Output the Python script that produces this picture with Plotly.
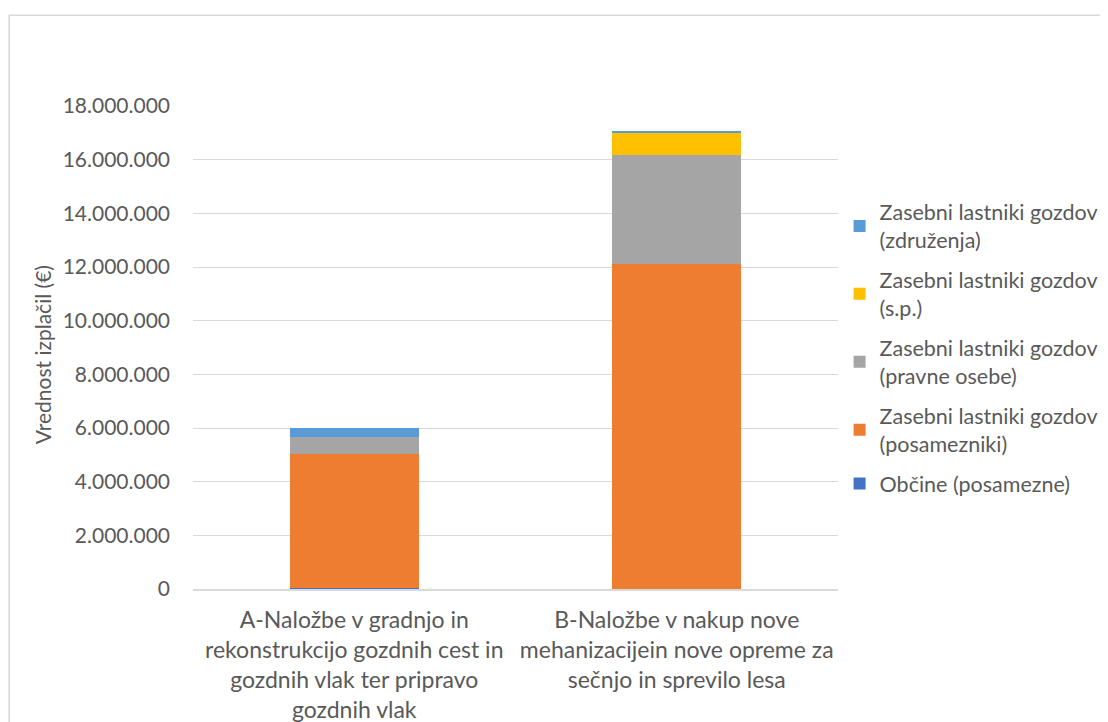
import plotly.graph_objects as go

categories = [
    "A-Naložbe v gradnjo in<br>rekonstrukcijo gozdnih cest in<br>gozdnih vlak ter pripravo<br>gozdnih vlak",
    "B-Naložbe v nakup nove<br>mehanizacijein nove opreme za<br>sečnjo in sprevilo lesa",
]
obcine = [40000, 0]
posamezniki = [4990000, 12100000]
pravne_osebe = [640000, 4060000]
sp = [0, 870000]
zdruzenja = [330000, 15000]

series_names = [
    "Občine (posamezne)",
    "Zasebni lastniki gozdov<br>(posamezniki)",
    "Zasebni lastniki gozdov<br>(pravne osebe)",
    "Zasebni lastniki gozdov<br>(s.p.)",
    "Zasebni lastniki gozdov<br>(združenja)",
]
series_values = [obcine, posamezniki, pravne_osebe, sp, zdruzenja]
series_colors = ["#4472C4", "#EF7D31", "#A5A5A5", "#FFC000", "#5B9BD5"]

tick_vals = [0, 2e6, 4e6, 6e6, 8e6, 10e6, 12e6, 14e6, 16e6, 18e6]
tick_text = ["0", "2.000.000", "4.000.000", "6.000.000", "8.000.000", "10.000.000",
             "12.000.000", "14.000.000", "16.000.000", "18.000.000"]

FONT = "Lato, 'Open Sans', sans-serif"
TEXT_COLOR = "#595959"

fig = go.Figure()
n_series = len(series_names)
for i, (name, values, color) in enumerate(zip(series_names, series_values, series_colors)):
    fig.add_trace(
        go.Bar(
            x=categories,
            y=values,
            name=name,
            legendgroup=str(i),
            legendrank=n_series - i,  # top of the stack first, as in Excel
            marker={"color": color, "line": {"width": 0}},
        )
    )

# page body adds an 8px offset, so the figure is sized to fit the window
fig.update_layout(
    barmode="stack",
    bargap=0.6,
    width=1100,
    height=714,
    margin={"l": 185, "r": 270, "t": 98, "b": 133, "autoexpand": False},
    paper_bgcolor="white",
    plot_bgcolor="white",
    font={"family": FONT, "size": 21, "color": TEXT_COLOR},
    showlegend=True,
    legend={
        "xref": "container",
        "x": 0.756,
        "xanchor": "left",
        "y": 0.499,
        "yanchor": "middle",
        "traceorder": "grouped",
        "tracegroupgap": 9,
        "font": {"family": FONT, "size": 21.5, "color": TEXT_COLOR},
        "itemwidth": 30,
    },
    shapes=[
        {
            "type": "rect",
            "xref": "paper",
            "yref": "paper",
            "x0": -0.285,
            "x1": 1.45,
            "y0": -0.32,
            "y1": 1.188,
            "line": {"color": "#d9d9d9", "width": 1.5},
            "fillcolor": "rgba(0,0,0,0)",
            "layer": "below",
        }
    ],
    annotations=[
        {
            "text": "Vrednost izplačil (€)",
            "xref": "paper",
            "yref": "paper",
            "x": -0.234,
            "y": 0.484,
            "xanchor": "center",
            "yanchor": "middle",
            "textangle": -90,
            "showarrow": False,
            "font": {"family": FONT, "size": 21, "color": TEXT_COLOR},
        }
    ],
)

fig.update_yaxes(
    range=[0, 18e6],
    tickvals=tick_vals,
    ticktext=tick_text,
    showgrid=True,
    gridcolor="#d9d9d9",
    gridwidth=1,
    zeroline=False,
    showline=False,
    ticks="",
    automargin=False,
    ticklabelstandoff=22,
    tickfont={"family": FONT, "size": 21, "color": TEXT_COLOR},
)
fig.update_xaxes(
    showline=True,
    linecolor="#d9d9d9",
    linewidth=1.5,
    ticks="",
    automargin=False,
    ticklabelstandoff=10,
    tickfont={"family": FONT, "size": 23, "color": TEXT_COLOR},
)

fig.write_html("out.html")
